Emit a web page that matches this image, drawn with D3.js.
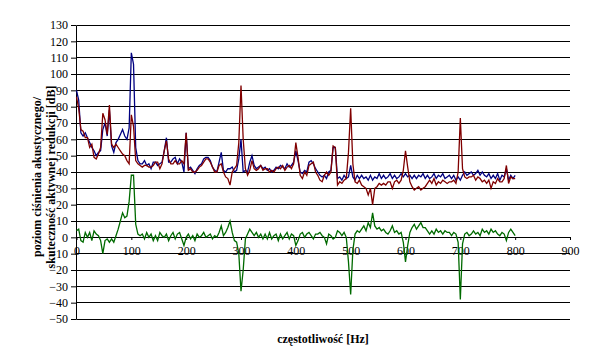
<!DOCTYPE html>
<html>
<head>
<meta charset="utf-8">
<script src="https://cdn.jsdelivr.net/npm/d3@7"></script>
<style>
  body { margin: 0; background: #fff; }
  svg text { font-family: "Liberation Serif", "Times New Roman", serif; fill: #000; }
</style>
</head>
<body>
<svg id="chart" width="596" height="363"></svg>
<script>
// frequency step of the readings [Hz]
const freqStep = 4

// sound pressure level without control [dB]
const levelOff = [
  90, 84, 64, 62, 64, 61, 58, 55, 53, 50,
  52, 53, 66, 70, 62, 78, 56, 52, 58, 60,
  63, 66, 62, 60, 67, 113, 106, 55, 47, 45,
  45, 47, 44, 45, 42, 46, 46, 44, 45, 46,
  53, 61, 46, 46, 48, 49, 45, 48, 46, 40,
  64, 42, 43, 41, 39, 42, 44, 45, 48, 49,
  49, 47, 43, 41, 40, 46, 52, 41, 40, 42,
  42, 43, 40, 41, 48, 60, 40, 41, 40, 46,
  50, 44, 42, 43, 44, 42, 43, 41, 42, 40,
  41, 43, 42, 44, 43, 42, 45, 43, 44, 46,
  53, 47, 40, 39, 41, 40, 46, 47, 45, 42,
  40, 38, 37, 38, 36, 40, 41, 55, 55, 36,
  37, 35, 38, 36, 37, 44, 37, 35, 38, 36,
  38, 36, 37, 35, 38, 35, 37, 36, 39, 36,
  38, 36, 37, 39, 36, 38, 36, 37, 39, 37,
  39, 37, 38, 36, 38, 36, 38, 37, 39, 36,
  38, 36, 37, 39, 36, 38, 37, 39, 36, 37,
  38, 36, 38, 35, 37, 35, 38, 40, 38, 39,
  40, 38, 39, 41, 38, 40, 38, 37, 39, 36,
  38, 36, 39, 35, 38, 37, 42, 35, 38, 36,
  38
]

// sound pressure level with active control [dB]
const levelOn = [
  86, 79, 66, 65, 61, 61, 55, 57, 49, 48,
  51, 55, 76, 72, 63, 81, 57, 55, 57, 55,
  53, 51, 50, 47, 45, 75, 68, 47, 45, 44,
  43, 44, 44, 43, 43, 44, 46, 46, 42, 45,
  53, 59, 48, 45, 45, 47, 45, 45, 47, 45,
  64, 41, 42, 40, 40, 41, 43, 44, 46, 48,
  48, 46, 43, 40, 40, 44, 45, 40, 37, 36,
  32, 40, 42, 44, 58, 93, 60, 42, 38, 41,
  47, 42, 41, 42, 44, 41, 42, 42, 40, 41,
  40, 42, 43, 42, 44, 41, 43, 44, 42, 45,
  58, 49, 38, 36, 40, 38, 44, 45, 46, 40,
  38, 35, 34, 38, 40, 38, 40, 56, 55, 32,
  34, 33, 35, 36, 52, 79, 45, 34, 33, 35,
  32, 31, 30, 26, 30, 20, 30, 31, 33, 32,
  33, 32, 34, 34, 30, 34, 35, 33, 35, 41,
  53, 43, 34, 31, 29, 30, 31, 29, 30, 31,
  33, 35, 33, 36, 32, 34, 33, 35, 34, 33,
  34, 34, 35, 33, 40, 73, 42, 37, 36, 37,
  37, 38, 35, 37, 36, 34, 35, 33, 35, 30,
  34, 33, 36, 34, 34, 36, 44, 33, 37, 36,
  36
]

// reduction achieved [dB]
const reduction = [
  4, 5, -2, -3, 3, 0, 3, -2, 4, 2,
  1, -2, -10, -2, -1, -3, -1, -3, 1, 5,
  10, 15, 12, 13, 22, 38, 38, 8, 2, 1,
  2, -1, 3, 0, 2, -2, 1, -2, 3, 1,
  0, 2, -2, 1, 3, -1, 2, 3, -1, -5,
  0, 2, -1, 1, -2, 2, 0, 1, 3, 0,
  1, 2, -1, 1, 0, 3, 7, 1, 3, 6,
  10, 3, -2, -3, -10, -33, -20, -1, 2, 5,
  3, 1, 3, 0, 2, -1, 2, -1, 3, -1,
  1, 2, -2, 2, -1, 1, 3, -1, 2, 1,
  -5, -2, 2, 3, 0, 2, 3, 1, -1, 2,
  2, 3, 1, 0, -4, 2, 1, -1, 0, 4,
  3, 1, 3, 0, -15, -35, -8, 2, 4, 3,
  5, 7, 4, 9, 6, 15, 7, 5, 6, 4,
  5, 3, 2, 4, 7, 3, 4, 2, 3, -3,
  -15, -5, 3, 6, 8, 5, 7, 9, 6, 6,
  4, 2, 4, 2, 5, 3, 4, 2, 4, 3,
  3, 1, 3, 2, -3, -38, -4, 2, 3, 1,
  2, 4, 2, 3, 1, 5, 3, 4, 2, 5,
  3, 4, 2, 1, 3, 2, -2, 3, 5, 3,
  1
]

const xTicks = [0, 100, 200, 300, 400, 500, 600, 700, 800, 900]
const yTicks = [-50, -40, -30, -20, -10, 0, 10, 20, 30, 40, 50, 60, 70, 80, 90, 100, 110, 120, 130]

const series = [
  { name: "off", values: levelOff, color: "#000080" },
  { name: "on", values: levelOn, color: "#800000" },
  { name: "reduction", values: reduction, color: "#006a00" }
]

const freqs = levelOff.map((d, i) => i * freqStep)

const svg = d3.select("#chart")

const x = d3.scaleLinear().domain([0, 900]).range([76.5, 570])
const y = d3.scaleLinear().domain([-50, 130]).range([319, 25])

// grid
svg.append("g")
  .attr("class", "grid")
  .selectAll("line")
  .data(yTicks)
  .enter()
  .append("line")
  .attr("x1", x(0))
  .attr("x2", x(900))
  .attr("y1", (d) => Math.floor(y(d)) + 0.5)
  .attr("y2", (d) => Math.floor(y(d)) + 0.5)
  .attr("stroke", "#000")
  .attr("stroke-width", 1)

// y axis
const yAxis = svg.append("g")
  .attr("transform", `translate(${Math.floor(x(0))},0)`)
  .call(d3.axisLeft(y).tickValues(yTicks).tickSize(5).tickSizeOuter(0).tickPadding(3))
yAxis.selectAll("text").style("font-size", "12px").style("font-family", "Liberation Serif")
yAxis.select(".domain").attr("stroke", "#000")

// x axis on zero line
const xAxis = svg.append("g")
  .attr("transform", `translate(0,${Math.floor(y(0))})`)
  .call(d3.axisBottom(x).tickValues(xTicks).tickSize(3).tickSizeOuter(0).tickPadding(6))
xAxis.selectAll("text").style("font-size", "12px").style("font-family", "Liberation Serif")
xAxis.select(".domain").attr("stroke", "#000")

// lines
const line = d3.line()
  .x((d, i) => x(freqs[i]))
  .y((d) => y(d))

svg.append("g")
  .selectAll("path")
  .data(series)
  .enter()
  .append("path")
  .attr("d", (d) => line(d.values))
  .attr("fill", "none")
  .attr("stroke", (d) => d.color)
  .attr("stroke-width", 1.3)
  .attr("stroke-linejoin", "miter")

// titles
svg.append("text")
  .attr("x", 323)
  .attr("y", 343)
  .attr("text-anchor", "middle")
  .style("font-size", "12px")
  .style("font-weight", "bold")
  .text("częstotliwość [Hz]")

const yTitle = svg.append("text")
  .attr("transform", "translate(44,177) rotate(-90)")
  .attr("text-anchor", "middle")
  .style("font-size", "12px")
  .style("font-weight", "bold")

yTitle.append("tspan")
  .attr("x", 0)
  .attr("y", -3)
  .text("poziom ciśnienia akustycznego/")

yTitle.append("tspan")
  .attr("x", 0)
  .attr("y", 11)
  .text("skuteczność aktywnej redukcji [dB]")
</script>
</body>
</html>
